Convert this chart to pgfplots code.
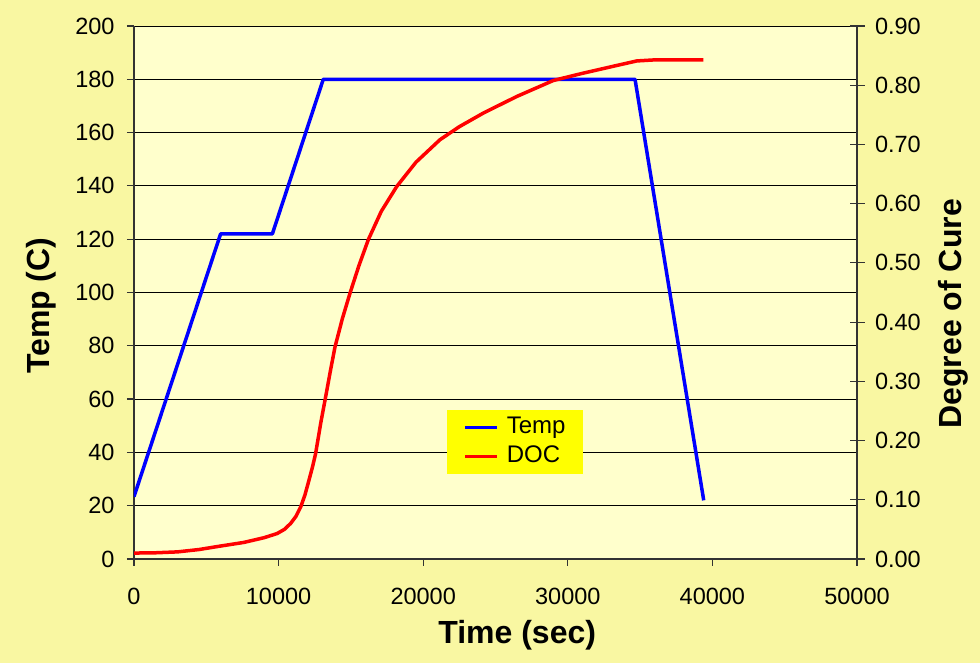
\documentclass[border=0pt]{standalone}
\usepackage{fontspec}
\setmainfont{Liberation Sans}
\usepackage{pgfplots}
\pgfplotsset{compat=1.18}
\definecolor{bgyellow}{HTML}{F9F7A2}
\definecolor{plotbg}{HTML}{FFFFCC}
\definecolor{axisgray}{HTML}{333333}
\definecolor{legyellow}{HTML}{FFFF00}

\pgfplotsset{
  cureaxis/.style={
    at={(134pt,104pt)}, anchor=south west,
    scale only axis, width=723pt, height=533pt,
    xmin=0, xmax=50000,
    axis line style={axisgray, line width=1.5pt, -},
    tick style={axisgray, line width=1.2pt},
    tick label style={font=\fontsize{23.5}{27}\selectfont},
    /pgf/number format/assume math mode=true,
    /pgf/number format/1000 sep={},
    label style={font=\bfseries\fontsize{32}{36}\selectfont},
  },
}

\begin{document}
\begin{tikzpicture}[x=1pt,y=1pt]
\fill[bgyellow] (0,0) rectangle (980,663);

% temperature axis (left)
\begin{axis}[
  cureaxis,
  ymin=0, ymax=200,
  axis background/.style={fill=plotbg},
  axis x line*=bottom, axis y line*=left,
  xtick={0,10000,20000,30000,40000,50000},
  scaled x ticks=false,
  ytick={0,20,...,200},
  ymajorgrids, grid style={black, line width=0.8pt},
  tick align=outside, major tick length=7pt,
  xticklabel style={yshift=-19pt},
  yticklabel style={xshift=-9pt},
  xlabel={Time (sec)},
  xlabel style={at={(axis description cs:0.53,0)}, anchor=base, yshift=-85pt},
  ylabel={Temp (C)},
  ylabel style={at={(axis description cs:-0.128,0.475)}, anchor=center},
  legend style={at={(axis description cs:0.433,0.2795)}, anchor=north west,
    fill=legyellow, draw=none, inner xsep=16pt, inner ysep=5pt,
    font=\fontsize{24}{27}\selectfont, column sep=6pt, row sep=4pt,
    nodes={inner sep=2pt, text height=16pt, text depth=5pt,
      font=\fontsize{24}{27}\selectfont}},
  legend cell align=left,
  legend image code/.code={\draw[#1] (0pt,0pt) -- (32pt,0pt);},
]
\addplot[blue, line width=3.5pt, line join=round] coordinates {
  (0,23.4) (5990,122) (9570,122) (13090,180) (34650,180) (39400,22)
};
\addlegendentry{Temp}
\addlegendimage{red, line width=3.5pt}
\addlegendentry{DOC}
\end{axis}

% degree of cure axis (right)
\begin{axis}[
  cureaxis,
  ymin=0, ymax=0.9,
  hide x axis, axis y line*=right,
  ytick={0,0.1,0.2,0.3,0.4,0.5,0.6,0.7,0.8,0.9},
  tick align=center, major tick length=15pt,
  yticklabel style={xshift=7pt, /pgf/number format/.cd, fixed, fixed zerofill, precision=2},
  ylabel={Degree of Cure},
  ylabel style={at={(axis description cs:1.1328,0.46)}, anchor=center},
]
\addplot[red, line width=3.5pt, line join=round] coordinates {
  (0,0.010) (1500,0.0105) (3000,0.012) (4500,0.016) (5760,0.021)
  (7600,0.028) (9000,0.036) (9900,0.043) (10400,0.050) (10830,0.060)
  (11200,0.072) (11530,0.088) (11820,0.108) (12100,0.133) (12350,0.156)
  (12560,0.178) (12910,0.229) (13300,0.280) (13600,0.320) (13900,0.358)
  (14400,0.405) (14940,0.449) (15550,0.495) (16200,0.539) (17100,0.587)
  (18170,0.629) (19500,0.670) (21160,0.708) (22500,0.730) (24160,0.753)
  (26470,0.781) (29000,0.808) (31000,0.820) (33500,0.834) (34770,0.841)
  (36150,0.843) (39370,0.843)
};
\end{axis}
\end{tikzpicture}
\end{document}
